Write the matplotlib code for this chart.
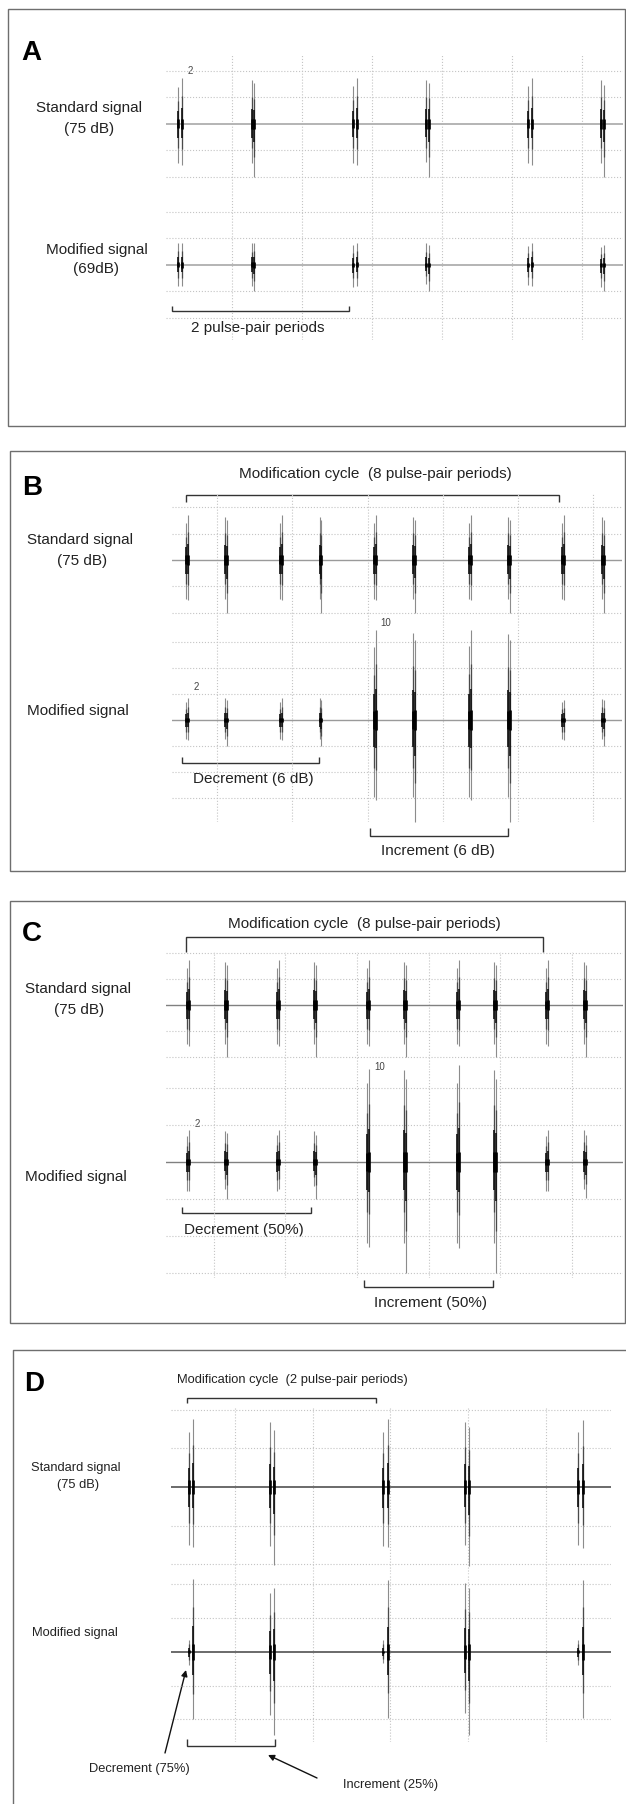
import numpy as np
import matplotlib.pyplot as plt
from matplotlib.patches import Rectangle

plt.rcParams['font.family'] = ['Liberation Sans', 'DejaVu Sans']

# Sub-pulse times (ms, gridlines every 20 ms) and envelope heights above / below
# the baseline in gridline units. Every pulse is a pair of closely spaced sub-pulses.

# A: standard 75 dB vs uniformly attenuated 69 dB
a_t = [4.7, 5.8, 25.6, 26.4, 54.6, 55.6, 75.4, 76.3, 104.6, 105.7, 125.4, 126.2]
a_std_up = [1.41, 1.72, 1.66, 1.54, 1.43, 1.72, 1.66, 1.56, 1.43, 1.72, 1.64, 1.47]
a_std_dn = [1.48, 1.55, 1.47, 1.99, 1.46, 1.55, 1.45, 1.99, 1.48, 1.55, 1.49, 1.99]
a_mod_up = [0.84, 0.84, 0.82, 0.84, 0.75, 0.84, 0.82, 0.75, 0.73, 0.84, 0.69, 0.75]
a_mod_dn = [0.79, 0.81, 0.79, 1.00, 0.82, 0.79, 0.70, 0.98, 0.76, 0.79, 0.82, 1.00]

# B: 6 dB decrement / increment over an 8-period cycle
b_t = [11.75, 12.25, 22.15, 22.65, 36.85, 37.35, 47.25, 47.75, 61.75, 62.25,
       72.15, 72.65, 86.95, 87.45, 97.35, 97.85, 111.75, 112.25, 122.25, 122.75]
b_std_up = [1.42, 1.71, 1.65, 1.54, 1.42, 1.71, 1.65, 1.54, 1.42, 1.71,
            1.65, 1.54, 1.42, 1.71, 1.65, 1.54, 1.42, 1.71, 1.65, 1.54]
b_std_dn = [1.49, 1.52, 1.49, 2.03, 1.49, 1.54, 1.49, 2.03, 1.49, 1.52,
            1.49, 2.01, 1.49, 1.54, 1.49, 2.03, 1.49, 1.52, 1.49, 2.03]
b_mod_up = [0.70, 0.83, 0.83, 0.76, 0.70, 0.83, 0.83, 0.76, 2.82, 3.46,
            3.33, 3.08, 2.85, 3.46, 3.30, 3.08, 0.70, 0.77, 0.80, 0.76]
b_mod_dn = [0.74, 0.77, 0.74, 1.00, 0.74, 0.77, 0.74, 1.00, 2.95, 3.08,
            2.95, 3.91, 2.95, 3.08, 2.95, 3.91, 0.74, 0.77, 0.74, 1.00]

# C: 50% decrement / increment over an 8-period cycle
c_t = [12.72, 13.28, 23.22, 23.78, 37.82, 38.38, 48.12, 48.68, 62.82, 63.38,
       73.22, 73.78, 87.92, 88.48, 98.22, 98.78, 112.82, 113.38, 123.32, 123.88]
c_std_up = [1.42, 1.73, 1.67, 1.54, 1.42, 1.73, 1.67, 1.54, 1.42, 1.73,
            1.67, 1.54, 1.42, 1.73, 1.67, 1.54, 1.42, 1.73, 1.67, 1.54]
c_std_dn = [1.49, 1.56, 1.49, 2.00, 1.49, 1.56, 1.49, 2.00, 1.49, 1.56,
            1.49, 2.00, 1.49, 1.56, 1.49, 2.00, 1.49, 1.56, 1.49, 2.00]
c_mod_up = [0.70, 0.86, 0.85, 0.78, 0.74, 0.86, 0.85, 0.74, 2.13, 2.53,
            2.49, 2.25, 2.13, 2.62, 2.50, 2.25, 0.70, 0.86, 0.86, 0.74]
c_mod_dn = [0.78, 0.78, 0.73, 1.00, 0.78, 0.73, 0.66, 1.00, 2.20, 2.29,
            2.20, 3.00, 2.20, 2.32, 2.20, 3.00, 0.78, 0.78, 0.74, 0.98]

# D: 75% decrement / 25% increment over a 2-period cycle
d_t = [8.2, 9.2, 29.0, 30.0, 58.2, 59.3, 79.2, 80.1, 108.3, 109.4]
d_std_up = [1.42, 1.76, 1.69, 1.47, 1.43, 1.76, 1.69, 1.56, 1.43, 1.73]
d_std_dn = [1.50, 1.55, 1.52, 2.02, 1.52, 1.55, 1.50, 2.04, 1.50, 1.58]
d_mod_up = [0.36, 2.16, 1.76, 1.90, 0.36, 2.14, 2.04, 1.90, 0.36, 2.14]
d_mod_dn = [0.39, 1.99, 1.87, 2.46, 0.33, 1.96, 1.81, 2.46, 0.39, 1.96]

W, H = 626, 1804
fig = plt.figure(figsize=(W / 100, H / 100), dpi=100)

# overlay in pixel units for frames, labels and brackets
ov = fig.add_axes([0, 0, 1, 1])
ov.set_xlim(0, W)
ov.set_ylim(H, 0)
ov.axis('off')

TXT = '#222222'


def box(x0, y0, x1, y1):
    return [x0 / W, 1 - y1 / H, (x1 - x0) / W, (y1 - y0) / H]


def trace_axes(x0, y0, x1, y1, xlim, ylim, base_color, base_lw):
    ax = fig.add_axes(box(x0, y0, x1, y1))
    ax.set_xlim(*xlim)
    ax.set_ylim(*ylim)
    ax.set_xticks([v for v in range(20, 140, 20) if xlim[0] < v < xlim[1]])
    ax.set_yticks([k for k in range(-4, 5) if k != 0 and ylim[0] < k < ylim[1]])
    ax.grid(True, color='#c4c4c4', ls=':', lw=0.8)
    ax.tick_params(length=0, labelbottom=False, labelleft=False)
    for s in ax.spines.values():
        s.set_visible(False)
    ax.patch.set_alpha(0)
    ax.axhline(0, color=base_color, lw=base_lw, zorder=2)
    return ax


def pulses(ax, t, up, dn):
    # gray outer envelope, darker body and a small black core around the baseline
    t, up, dn = np.asarray(t), np.asarray(up), np.asarray(dn)
    ax.vlines(t, -dn, up, color='#8c8c8c', lw=0.8, clip_on=False, zorder=3)
    ax.vlines(t, -0.62 * dn, 0.62 * up, color='#4a4a4a', lw=0.9, clip_on=False, zorder=4)
    ax.vlines(t, -0.35 * dn, 0.35 * up, color='#111111', lw=1.2, clip_on=False, zorder=5)
    core = 0.12 * np.minimum(up, dn)
    ax.vlines(t, -core, core, color='black', lw=1.9, clip_on=False, zorder=6)


def label(x, y, s, size=11, **kw):
    ov.text(x, y + 0.358 * size * 100 / 72, s, fontsize=size, ha='center',
            va='baseline', color=kw.pop('color', TXT), **kw)


def bracket(x0, x1, y, tip):
    ov.plot([x0, x0, x1, x1], [tip, y, y, tip], color='#333333', lw=1.0,
            solid_joinstyle='miter', solid_capstyle='butt')


def panel(rows):
    for (y0, y1, ylim, t, up, dn, col, lw), (x0, x1, xlim) in rows:
        ax = trace_axes(x0, y0, x1, y1, xlim, ylim, col, lw)
        pulses(ax, t, up, dn)


# frames
ov.add_patch(Rectangle((8, 9), 617, 417, fill=False, ec='#6e6e6e', lw=1.0))
ov.add_patch(Rectangle((10, 451), 615, 420, fill=False, ec='#6e6e6e', lw=1.0))
ov.add_patch(Rectangle((10, 901), 615, 422, fill=False, ec='#6e6e6e', lw=1.0))
ov.plot([13, 13, 626], [1804, 1350, 1350], color='#6e6e6e', lw=1.0)

# ---- A
xa = (166, 623, (1.14, 131.71))
panel([((55, 195, (-2.68, 2.60), a_t, a_std_up, a_std_dn, '#b4b4b4', 1.4), xa),
       ((195, 340, (-2.83, 2.64), a_t, a_mod_up, a_mod_dn, '#b4b4b4', 1.4), xa)])
label(31, 50, 'A', size=20, fontweight='bold', color='black')
label(89, 107, 'Standard signal')
label(89, 128, '(75 dB)')
label(97, 249, 'Modified signal')
label(96, 268, '(69dB)')
label(190, 71, '2', size=7, color='#444444')
bracket(172, 349, 311, 306)
label(258, 327, '2 pulse-pair periods')

# ---- B
xb = (172, 622, (8.05, 127.57))
panel([((493, 628, (-2.59, 2.55), b_t, b_std_up, b_std_dn, '#9a9a9a', 1.0), xb),
       ((628, 822, (-3.92, 3.54), b_t, b_mod_up, b_mod_dn, '#9a9a9a', 1.0), xb)])
label(32, 485, 'B', size=20, fontweight='bold', color='black')
label(375, 473, 'Modification cycle  (8 pulse-pair periods)')
bracket(186, 559, 495, 502)
label(80, 539, 'Standard signal')
label(82, 560, '(75 dB)')
label(78, 710, 'Modified signal')
label(196, 687, '2', size=7, color='#444444')
label(386, 623, '10', size=7, color='#444444')
bracket(182, 319, 763, 757)
label(253, 778, 'Decrement (6 dB)')
bracket(370, 508, 836, 828)
label(438, 850, 'Increment (6 dB)')

# ---- C
xc = (166, 623, (6.75, 134.2))
panel([((952, 1070, (-2.50, 2.04), c_t, c_std_up, c_std_dn, '#808080', 1.0), xc),
       ((1070, 1278, (-3.14, 2.49), c_t, c_mod_up, c_mod_dn, '#808080', 1.0), xc)])
label(32, 931, 'C', size=20, fontweight='bold', color='black')
label(364, 923, 'Modification cycle  (8 pulse-pair periods)')
bracket(186, 543, 937, 952)
label(78, 988, 'Standard signal')
label(79, 1009, '(75 dB)')
label(76, 1176, 'Modified signal')
label(197, 1124, '2', size=7, color='#444444')
label(380, 1067, '10', size=7, color='#444444')
bracket(182, 311, 1213, 1207)
label(244, 1229, 'Decrement (50%)')
bracket(364, 493, 1287, 1280)
label(430, 1302, 'Increment (50%)')

# ---- D
xd = (171, 611, (3.54, 116.72))
panel([((1407, 1574, (-2.25, 2.07), d_t, d_std_up, d_std_dn, '#6a6a6a', 1.4), xd),
       ((1574, 1742, (-2.67, 2.31), d_t, d_mod_up, d_mod_dn, '#6a6a6a', 1.4), xd)])
label(34, 1381, 'D', size=20, fontweight='bold', color='black')
label(292, 1378, 'Modification cycle  (2 pulse-pair periods)', size=9.3)
bracket(187, 376, 1398, 1403)
label(76, 1466, 'Standard signal', size=9.3)
label(78, 1483, '(75 dB)', size=9.3)
label(75, 1631, 'Modified signal', size=9.3)
bracket(187, 275, 1746, 1739)
label(139, 1767, 'Decrement (75%)', size=9.3)
label(391, 1783, 'Increment (25%)', size=9.3)
arrow = dict(arrowstyle='-|>', color='#111111', lw=1.0, mutation_scale=9,
             shrinkA=0, shrinkB=0)
ov.annotate('', xy=(186, 1670), xytext=(165, 1753), arrowprops=arrow)
ov.annotate('', xy=(268, 1755), xytext=(317, 1778), arrowprops=arrow)

fig.savefig('out.png', dpi=100)
